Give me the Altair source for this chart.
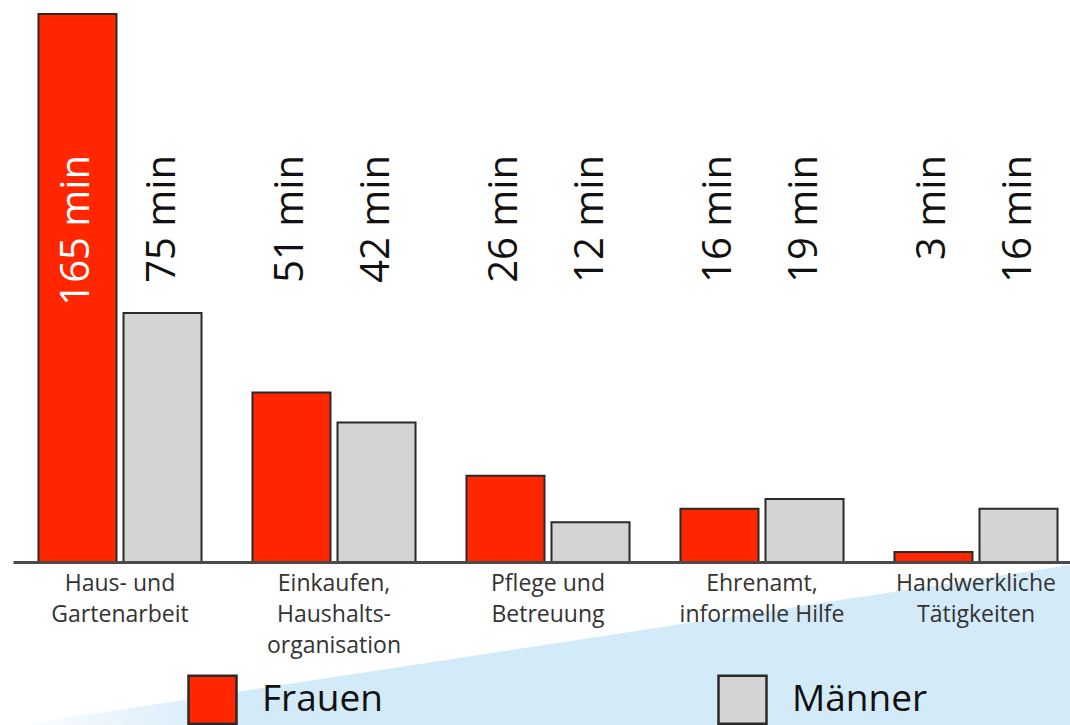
import altair as alt
import pandas as pd

# Time use per day (minutes), by activity and gender
categories = [
    "Haus- und|Gartenarbeit",
    "Einkaufen,|Haushalts-|organisation",
    "Pflege und|Betreuung",
    "Ehrenamt,|informelle Hilfe",
    "Handwerkliche|Tätigkeiten",
]
genders = ["Frauen", "Männer"]
frauen = [165, 51, 26, 16, 3]
maenner = [75, 42, 12, 19, 16]

rows = []
for cat, f, m in zip(categories, frauen, maenner):
    rows.append({"kategorie": cat, "geschlecht": "Frauen", "minuten": f})
    rows.append({"kategorie": cat, "geschlecht": "Männer", "minuten": m})
df = pd.DataFrame(rows)
df["beschriftung"] = df["minuten"].astype(str) + " min"

FONT = "Open Sans"
RED = "#ff2600"
GREY = "#d4d4d4"
OUTLINE = "#2a2a2a"

# Vertical extent of the value axis so that the tallest bar nearly touches the top
y_max = 169.2
label_top = 155  # pixel height at which the rotated value labels end
inside_threshold = y_max * (1 - label_top / 562)

x_axis = alt.Axis(
    title=None,
    ticks=False,
    labelAngle=0,
    labelFont=FONT,
    labelFontSize=23,
    labelColor="#333333",
    labelPadding=10,
    labelLineHeight=31,
    labelLimit=400,
    labelExpr="split(datum.label, '|')",
    domainColor="#4a4a4a",
    domainWidth=3,
    zindex=1,
)
x_enc = alt.X(
    "kategorie:N",
    sort=categories,
    scale=alt.Scale(range=[13, 1083], paddingInner=0.238, paddingOuter=0.119),
    axis=x_axis,
)
off_enc = alt.XOffset("geschlecht:N", sort=genders,
                      scale=alt.Scale(paddingInner=0.0824, paddingOuter=0))

bars = alt.Chart(df).mark_bar(stroke=OUTLINE, strokeWidth=2).encode(
    x=x_enc,
    xOffset=off_enc,
    y=alt.Y("minuten:Q", scale=alt.Scale(domain=[0, y_max], nice=False), axis=None),
    color=alt.Color(
        "geschlecht:N",
        scale=alt.Scale(domain=genders, range=[RED, GREY]),
        legend=alt.Legend(
            title=None,
            orient="none",
            legendX=187,
            legendY=674,
            direction="horizontal",
            symbolType="square",
            symbolSize=2304,
            symbolStrokeColor=OUTLINE,
            symbolStrokeWidth=2.5,
            symbolOpacity=1,
            labelFont=FONT,
            labelFontSize=37,
            labelColor="#111111",
            labelOffset=24,
            labelLimit=300,
            columnPadding=330,
            padding=0,
        ),
    ),
)

labels = alt.Chart(df).mark_text(
    angle=270, align="right", baseline="middle", font=FONT, fontSize=40, fontWeight=500
).encode(
    x=x_enc,
    xOffset=off_enc,
    y=alt.value(label_top),
    text="beschriftung:N",
    color=alt.condition(f"datum.minuten > {inside_threshold:.1f}",
                        alt.value("white"), alt.value("#111111")),
)

# Pale blue wedge rising across the bottom of the graphic
wedge_df = pd.DataFrame({"u": [0, 1], "v": [0, 1]})
wedge = alt.Chart(wedge_df).mark_area(
    color=alt.Gradient(
        gradient="linear",
        stops=[
            alt.GradientStop(color="#ffffff", offset=0),
            alt.GradientStop(color="#d3eaf8", offset=0.22),
            alt.GradientStop(color="#d3eaf8", offset=1),
        ],
        x1=0, x2=1, y1=0, y2=0,
    )
).encode(
    x=alt.X("u:Q", scale=alt.Scale(domain=[0, 1], range=[0, 1070]), axis=None),
    y=alt.Y("v:Q", scale=alt.Scale(domain=[0, 1], range=[728, 565]), axis=None),
)

chart = (
    alt.layer(wedge, alt.layer(bars, labels))
    .resolve_scale(x="independent", y="independent")
    .properties(
        width=1070,
        height=562,
        autosize=alt.AutoSizeParams(type="none"),
        padding={"left": 0, "top": 0, "right": 0, "bottom": 163},
        background="white",
    )
    .configure_view(stroke=None)
)

chart.save("out.html", embed_options={"renderer": "svg", "actions": False})
